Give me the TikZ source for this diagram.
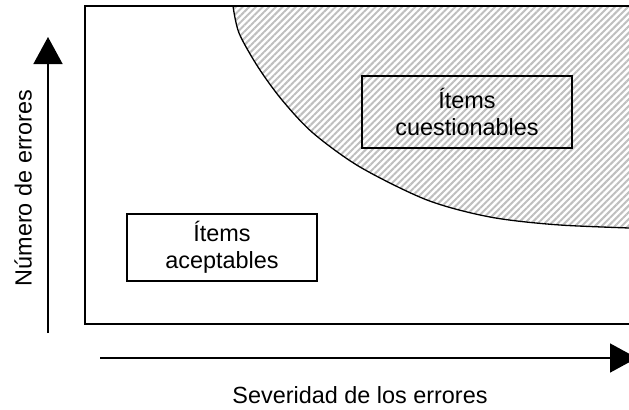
\documentclass[tikz,border=0pt]{standalone}
\usepackage{fontspec}
\setmainfont{Liberation Sans}
\usetikzlibrary{arrows.meta,patterns.meta}

\begin{document}
\begin{tikzpicture}[x=1bp,y=-1bp,
  label/.style={font=\fontsize{23.5}{27}\selectfont,inner sep=0pt},
  itembox/.style={draw,line width=1.5bp,align=center,inner sep=0pt,font=\fontsize{23.5}{27}\selectfont},
  axis/.style={line width=1.6bp,-{Triangle[length=27bp,width=29bp]}}]
\useasboundingbox (0,0) rectangle (629,409);
% zona de items cuestionables
\fill[pattern={Lines[angle=45,distance=4.7bp,line width=2bp]},pattern color=gray!50]
  plot[smooth] coordinates {(233,6) (239,33) (258,67) (282,100) (313,133) (360,167) (427,200) (490,217) (560,225) (660,229)}
  -- (660,6) -- cycle;
\draw[line width=1.3bp] plot[smooth] coordinates {(233,6) (239,33) (258,67) (282,100) (313,133) (360,167) (427,200) (490,217) (560,225) (660,229)};
\draw[line width=1.5bp] (85,6) rectangle (680,324);

\node[itembox,minimum width=210bp,minimum height=72bp] (quest) at (467,112) {Ítems\\cuestionables};
\node[itembox,minimum width=190bp,minimum height=67bp] (acept) at (222,247.5) {Ítems\\aceptables};

% ejes
\coordinate (ybase) at (48,333);
\coordinate (ytip) at (48,37);
\coordinate (xbase) at (100,358);
\coordinate (xtip) at (637,358);
\draw[axis] (ybase) -- (ytip);
\draw[axis] (xbase) -- (xtip);
\node[label,rotate=90] (ylab) at (23,188) {Número de errores};
\node[label] (xlab) at (360,395) {Severidad de los errores};
\end{tikzpicture}
\end{document}
